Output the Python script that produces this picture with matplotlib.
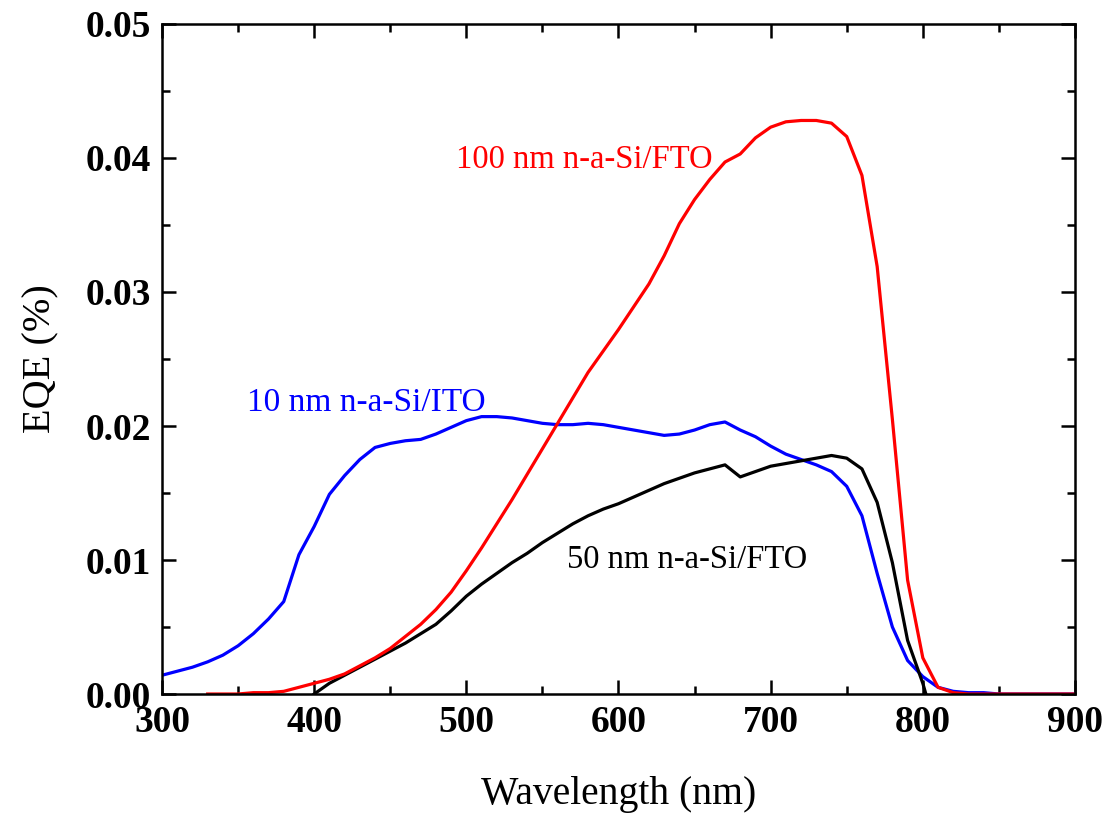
import matplotlib
matplotlib.use("Agg")
import matplotlib.pyplot as plt
from matplotlib.ticker import MultipleLocator

# ---- data ----
wl_ito10 = [300, 310, 320, 330, 340, 350, 360, 370, 380, 390, 400, 410, 420, 430, 440,
            450, 460, 470, 480, 490, 500, 510, 520, 530, 540, 550, 560, 570, 580, 590,
            600, 610, 620, 630, 640, 650, 660, 670, 680, 690, 700, 710, 720, 730, 740,
            750, 760, 770, 780, 790, 800, 810, 820, 830, 840, 850, 860, 870, 880, 890, 900]
eqe_ito10 = [0.0014, 0.0017, 0.0020, 0.0024, 0.0029, 0.0036, 0.0045, 0.0056, 0.0069, 0.0104,
             0.0125, 0.0149, 0.0163, 0.0175, 0.0184, 0.0187, 0.0189, 0.0190, 0.0194, 0.0199,
             0.0204, 0.0207, 0.0207, 0.0206, 0.0204, 0.0202, 0.0201, 0.0201, 0.0202, 0.0201,
             0.0199, 0.0197, 0.0195, 0.0193, 0.0194, 0.0197, 0.0201, 0.0203, 0.0197, 0.0192,
             0.0185, 0.0179, 0.0175, 0.0171, 0.0166, 0.0155, 0.0133, 0.0090, 0.0050, 0.0025,
             0.0013, 0.0005, 0.0002, 0.0001, 0.0001, 0.0, 0.0, 0.0, 0.0, 0.0, 0.0]

wl_fto100 = [330, 340, 350, 360, 370, 380, 390, 400, 410, 420, 430, 440, 450, 460, 470,
             480, 490, 500, 510, 520, 530, 540, 550, 560, 570, 580, 590, 600, 610, 620,
             630, 640, 650, 660, 670, 680, 690, 700, 710, 720, 730, 740, 750, 760, 770,
             780, 790, 800, 810, 820, 830, 840, 850, 860, 870, 880, 890, 900]
eqe_fto100 = [0.0, 0.0, 0.0, 0.0001, 0.0001, 0.0002, 0.0005, 0.0008, 0.0011, 0.0015,
              0.0021, 0.0027, 0.0034, 0.0043, 0.0052, 0.0063, 0.0076, 0.0092, 0.0109, 0.0127,
              0.0145, 0.0164, 0.0183, 0.0202, 0.0221, 0.0240, 0.0256, 0.0272, 0.0289, 0.0306,
              0.0327, 0.0351, 0.0369, 0.0384, 0.0397, 0.0403, 0.0415, 0.0423, 0.0427, 0.0428,
              0.0428, 0.0426, 0.0416, 0.0387, 0.0319, 0.0205, 0.0085, 0.0027, 0.0005, 0.0001,
              0.0, 0.0, 0.0, 0.0, 0.0, 0.0, 0.0, 0.0]

wl_fto50 = [400, 410, 420, 430, 440, 450, 460, 470, 480, 490, 500, 510, 520, 530, 540,
            550, 560, 570, 580, 590, 600, 610, 620, 630, 640, 650, 660, 670, 680, 690,
            700, 710, 720, 730, 740, 750, 760, 770, 780, 790, 800, 802]
eqe_fto50 = [0.0, 0.0008, 0.0014, 0.0020, 0.0026, 0.0032, 0.0038, 0.0045, 0.0052, 0.0062,
             0.0073, 0.0082, 0.0090, 0.0098, 0.0105, 0.0113, 0.0120, 0.0127, 0.0133, 0.0138,
             0.0142, 0.0147, 0.0152, 0.0157, 0.0161, 0.0165, 0.0168, 0.0171, 0.0162, 0.0166,
             0.0170, 0.0172, 0.0174, 0.0176, 0.0178, 0.0176, 0.0168, 0.0143, 0.0098, 0.0040,
             0.0008, 0.0]

labels = ["10 nm n-a-Si/ITO", "100 nm n-a-Si/FTO", "50 nm n-a-Si/FTO"]
colors = ["#0000ff", "#ff0000", "#000000"]
x_ticks = [300, 400, 500, 600, 700, 800, 900]
y_ticks = [0.00, 0.01, 0.02, 0.03, 0.04, 0.05]

plt.rcParams['font.family'] = ['Liberation Serif', 'DejaVu Serif']

fig = plt.figure(figsize=(11.12, 8.16), dpi=100)
ax = fig.add_axes([0.1457, 0.1495, 0.8210, 0.8211])

ax.plot(wl_ito10, eqe_ito10, color=colors[0], lw=2.3)
ax.plot(wl_fto50, eqe_fto50, color=colors[2], lw=2.3)
ax.plot(wl_fto100, eqe_fto100, color=colors[1], lw=2.3)

ax.set_xlim(300, 900)
ax.set_ylim(0, 0.05)
ax.set_xticks(x_ticks)
ax.set_yticks(y_ticks)
ax.set_xticklabels([str(v) for v in x_ticks])
ax.set_yticklabels([f"{v:.2f}" for v in y_ticks])
ax.xaxis.set_minor_locator(MultipleLocator(50))
ax.yaxis.set_minor_locator(MultipleLocator(0.005))

ax.tick_params(which='both', direction='in', top=True, right=True, width=1.8)
ax.tick_params(which='major', length=10, labelsize=27, pad=8)
ax.tick_params(which='minor', length=6)
for lab in ax.get_xticklabels() + ax.get_yticklabels():
    lab.set_fontweight('bold')
for sp in ax.spines.values():
    sp.set_linewidth(1.8)

ax.set_xlabel("Wavelength (nm)", fontsize=28.5, labelpad=26)
ax.set_ylabel("EQE (%)", fontsize=29, labelpad=19)

ax.text(356, 0.0217, labels[0], color=colors[0], fontsize=24, va='center', ha='left')
ax.text(493, 0.0399, labels[1], color=colors[1], fontsize=23.5, va='center', ha='left')
ax.text(566, 0.0100, labels[2], color=colors[2], fontsize=23.5, va='center', ha='left')

fig.savefig("out.png", dpi=100)
